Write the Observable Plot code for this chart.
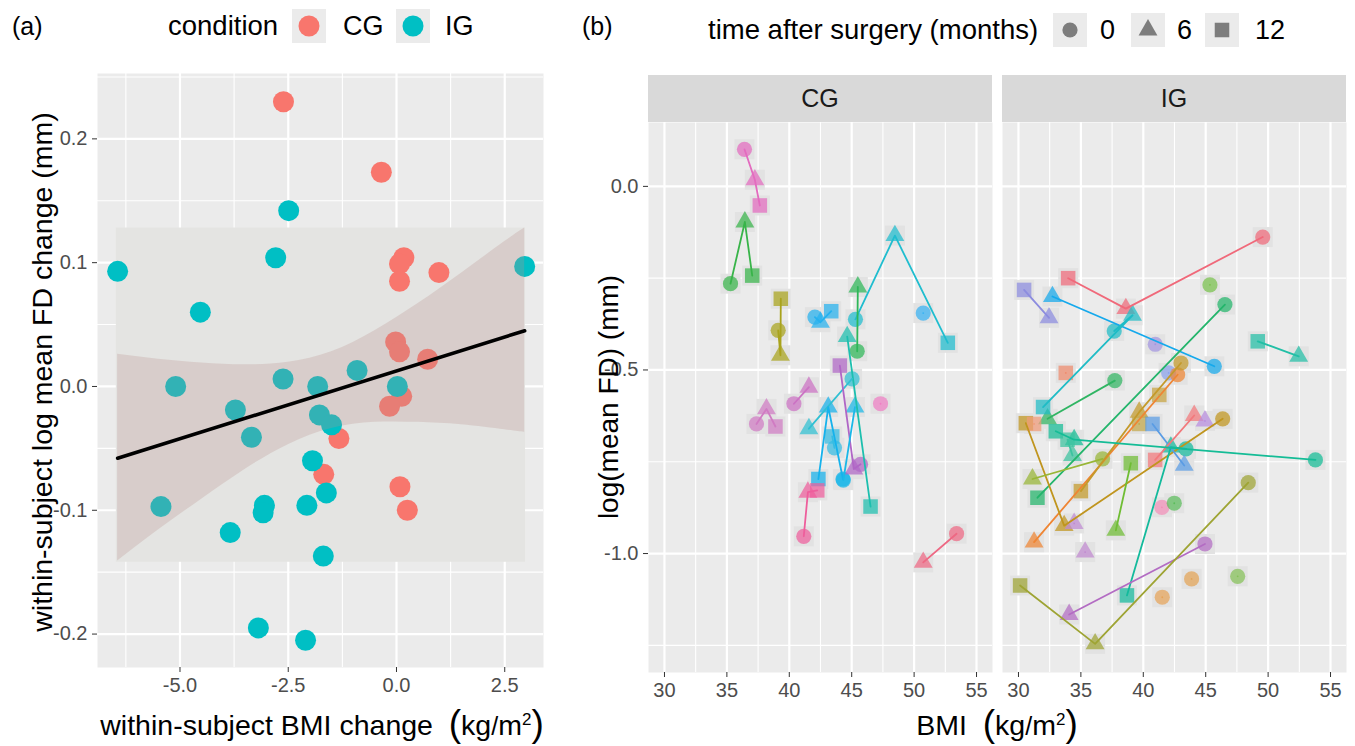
<!DOCTYPE html>
<html><head><meta charset="utf-8">
<script src="https://cdn.jsdelivr.net/npm/d3@7"></script>
<script src="https://cdn.jsdelivr.net/npm/@observablehq/plot@0.6"></script>
<style>
body{margin:0;background:#fff;}
#wrap{position:relative;width:1355px;height:746px;overflow:hidden;font-family:"Liberation Sans",Arial,Helvetica,sans-serif;color:#000;background:#fff;}
.abs{position:absolute;white-space:nowrap;line-height:1;}
.box{position:absolute;top:0;}
.strip{position:absolute;background:#d9d9d9;color:#1a1a1a;font-size:25px;display:flex;align-items:center;justify-content:center;}
.bp{font-size:37px;position:relative;top:1px;font-weight:300;}
sup{font-size:17px;line-height:0;vertical-align:0.55em;}
</style></head>
<body><div id="wrap"></div>
<script>
const FONT = '"Liberation Sans", Arial, Helvetica, sans-serif';

// ---------- Panel (a) data ----------
const aConditions = ["CG", "IG"];
const aCondColors = ["#f8766d", "#00bfc4"];
const aCG_dx = [-2.61, -0.35, 0.17, 0.07, 0.07, 0.98, -0.02, 0.07, 0.72, 0.12, -0.16, -1.33, -1.68, 0.08, 0.25];
const aCG_dy = [0.230, 0.173, 0.104, 0.099, 0.085, 0.092, 0.036, 0.028, 0.022, -0.008, -0.016, -0.042, -0.071, -0.081, -0.100];
const aIG_dx = [-6.44, -2.49, -2.79, -4.53, 2.96, -5.10, -2.62, -1.82, -0.91, 0.02, -3.72, -3.35, -1.78, -1.50, -1.94, -1.62, -5.44, -3.05, -3.08, -2.07, -3.84, -1.69, -3.19, -2.10];
const aIG_dy = [0.093, 0.142, 0.104, 0.060, 0.097, 0.000, 0.006, 0.000, 0.013, 0.000, -0.019, -0.041, -0.023, -0.031, -0.060, -0.086, -0.097, -0.096, -0.102, -0.096, -0.118, -0.137, -0.195, -0.205];
const aFitX = [-6.44, 2.96];
const aFitY = [-0.058, 0.045];
const aBandX  = [-6.44, -5.5, -4.5, -3.5, -2.5, -1.5, -0.5, 0.5, 1.5, 2.5, 2.96];
const aBandHi = [0.026, 0.022, 0.019, 0.0175, 0.0196, 0.028, 0.045, 0.067, 0.0915, 0.117, 0.128];
const aBandLo = [-0.141, -0.116, -0.091, -0.067, -0.047, -0.034, -0.029, -0.029, -0.031, -0.035, -0.037];
const aBoxX = [-6.47, 2.98];
const aBoxY = [-0.142, 0.128];
const aTicksX = [-5, -2.5, 0, 2.5];
const aMinorX = [-6.25, -3.75, -1.25, 1.25];
const aTicksY = [-0.2, -0.1, 0, 0.1, 0.2];
const aMinorY = [-0.15, -0.05, 0.05, 0.15, 0.25];

// ---------- Panel (b) data ----------
const timeLabels = ["0", "6", "12"];
const cgSubj = [1,1,1, 2,2,2, 3,3,3, 4,4,4, 5,5,5, 6,6, 7, 8,8, 9,9, 10,10, 11,11,11, 12,12,12, 13,13,13, 14,14, 15,15, 16,16,16, 17, 18,18];
const cgTime = [0,6,12, 0,6,12, 0,6,12, 0,6,12, 0,6,12, 0,6, 0, 6,12, 0,6, 0,6, 0,6,12, 0,6,12, 0,6,12, 0,6, 0,12, 0,6,12, 0, 0,6];
const cgBMI = [36.41,37.24,37.64, 35.29,36.44,37.03, 39.11,39.29,39.32, 42.05,42.50,43.36, 45.30,48.46,52.70, 45.44,45.49, 50.73, 44.64,46.51, 45.03,41.57, 40.37,41.57, 37.37,38.17,38.89, 45.71,45.17,44.05, 44.30,43.12,42.33, 44.33,45.26, 43.62,43.44, 41.16,41.49,42.24, 47.31, 53.40,50.73];
const cgFD = [0.101,0.018,-0.052, -0.265,-0.097,-0.243, -0.392,-0.460,-0.306, -0.356,-0.370,-0.340, -0.362,-0.134,-0.426, -0.449,-0.274, -0.345, -0.409,-0.872, -0.524,-0.660, -0.592,-0.547, -0.647,-0.606,-0.654, -0.757,-0.770,-0.488, -0.797,-0.601,-0.797, -0.800,-0.601, -0.712,-0.681, -0.953,-0.833,-0.828, -0.592, -0.946,-1.024];
const cgColors = ["#e36bbf","#38b449","#a9a31c","#25b1ef","#1fbdcf","#2eb758","#38b2f2","#1cbfae","#2fc0d3","#cc72c4","#d07bc3","#b066c6","#16b2ec","#1ab8e8","#35bde3","#ee5e9c","#ef7ec3","#ee6883"];

const igSubj = [1,1,1, 2,2, 3,3, 4,4,4, 5, 6, 7,7, 8,8, 9, 10,10, 11, 12,12, 13,13,13, 14, 15, 16,16,16, 17, 18,18, 19,19, 20, 21,21,21, 22,22, 23,23,23, 24,24, 25,25, 26, 27, 28,28, 29,29,29, 30, 31, 32, 33, 34];
const igTime = [0,6,12, 6,12, 0,6, 0,6,12, 0, 0, 0,12, 6,12, 12, 0,6, 0, 0,6, 0,6,12, 12, 12, 0,6,12, 12, 6,12, 6,12, 6, 0,6,12, 6,12, 0,6,12, 0,6, 6,12, 0, 0, 0,6, 0,6,12, 0, 0, 0, 6, 6];
const igBMI = [49.57,38.60,33.98, 32.45,30.45, 45.69,32.72, 37.67,39.14,31.97, 40.96, 45.34, 46.54,31.52, 52.45,49.17, 33.79, 37.72,32.33, 42.03, 42.75,31.25, 43.02,39.67,35.00, 41.28, 39.67, 46.36,33.66,30.59, 31.25, 43.28,40.74, 44.08,40.95, 44.94, 53.79,34.46,32.99, 34.33,33.93, 43.42,42.21,38.69, 36.74,31.12, 37.80,39.00, 41.49, 42.48, 44.94,34.06, 48.41,36.14,30.13, 43.87, 41.52, 47.56, 35.34, 34.46];
const igFD = [-0.138,-0.333,-0.250, -0.358,-0.282, -0.490,-0.300, -0.394,-0.351,-0.601, -0.430, -0.268, -0.322,-0.848, -0.463,-0.422, -0.508, -0.529,-0.633, -0.508, -0.513,-0.969, -0.481,-0.615,-0.830, -0.568, -0.647, -0.633,-0.924,-0.645, -0.647, -0.760,-0.647, -0.624,-0.745, -0.639, -0.745,-0.690,-0.667, -0.733,-0.690, -0.715,-0.710,-1.114, -0.742,-0.797, -0.937,-0.754, -0.874, -0.863, -0.974,-1.166, -0.807,-1.246,-1.087, -1.069, -1.119, -1.062, -0.996, -0.918];
const igColors = ["#f0697a","#8c8cdf","#15a9ec","#1ebcc6","#a395e0","#79c24c","#23b56b","#22bfa6","#ef8a6c","#30b563","#8aa2ec","#ef8533","#c49a2a","#c8a440","#c4a84a","#c0951e","#f19b78","#5a9ce4","#f2797c","#b98ee0","#14bc96","#3cc3a0","#13ba9c","#98b636","#6fbd33","#f28fb8","#5bbd5b","#b36cc3","#9ea433","#e3a356","#e6a359","#85c158","#c089d0","#bf8ad2"];

const bTicksX = [30, 35, 40, 45, 50, 55];
const bMinorX = [32.5, 37.5, 42.5, 47.5, 52.5];
const bTicksY = [0, -0.5, -1.0];
const bMinorY = [-0.25, -0.75, -1.25];

// ---------- build tables ----------
const aRows = [
  ...aCG_dx.map((x, i) => ({dx: x, dy: aCG_dy[i], color: aCondColors[0]})),
  ...aIG_dx.map((x, i) => ({dx: x, dy: aIG_dy[i], color: aCondColors[1]}))
];
const aBand = aBandX.map((x, i) => ({x, lo: aBandLo[i], hi: aBandHi[i]}));
const aFit = aFitX.map((x, i) => ({x, y: aFitY[i]}));
const aBox = [{x1: aBoxX[0], x2: aBoxX[1], y1: aBoxY[0], y2: aBoxY[1]}];

function rowsFor(subj, time, bmi, fd, colors) {
  return subj.map((s, i) => ({subj: s, time: time[i], bmi: bmi[i], fd: fd[i], color: colors[s - 1]}));
}
const cgRows = rowsFor(cgSubj, cgTime, cgBMI, cgFD, cgColors);
const igRows = rowsFor(igSubj, igTime, igBMI, igFD, igColors);

const wrap = document.getElementById("wrap");
const fmt1 = d => d.toFixed(1);
const white = w => ({stroke: "#ffffff", strokeOpacity: 1, strokeWidth: w});
const axisStyle = {tickSize: 5, tickPadding: 5, fontSize: 20, stroke: "#333", fill: "#4d4d4d", label: null};

// ---------- Panel (a) ----------
const plotA = Plot.plot({
  width: 560, height: 746,
  marginLeft: 97, marginRight: 17, marginTop: 73, marginBottom: 79,
  x: {domain: [-6.905, 3.395]},
  y: {domain: [-0.227, 0.2528]},
  color: {type: "identity"},
  style: {fontFamily: FONT, background: "transparent", color: "#4d4d4d"},
  marks: [
    Plot.frame({fill: "#ebebeb", stroke: "none"}),
    Plot.gridX(aMinorX, white(1.1)),
    Plot.gridY(aMinorY, white(1.1)),
    Plot.gridX(aTicksX, white(2.2)),
    Plot.gridY(aTicksY, white(2.2)),
    Plot.rect(aBox, {x1: "x1", x2: "x2", y1: "y1", y2: "y2", fill: "#e4e4e2"}),
    Plot.dot(aRows, {x: "dx", y: "dy", fill: "color", r: 10.5}),
    Plot.areaY(aBand, {x: "x", y1: "lo", y2: "hi", fill: "#b8908e", fillOpacity: 0.27, curve: "natural"}),
    Plot.line(aFit, {x: "x", y: "y", stroke: "#000", strokeWidth: 3.6}),
    Plot.axisX(aTicksX, {...axisStyle, tickFormat: fmt1}),
    Plot.axisY(aTicksY, {...axisStyle, tickFormat: fmt1})
  ]
});
const boxA = document.createElement("div"); boxA.className = "box"; boxA.style.left = "0px";
boxA.appendChild(plotA); wrap.appendChild(boxA);

// ---------- Panel (b) facets ----------
const shapes = [[0, "circle", 7.6], [6, "triangle", 7.0], [12, "square", 8.2]];
function facetPlot(rows, ml, mr, width, withY) {
  return Plot.plot({
    width, height: 746,
    marginLeft: ml, marginRight: mr, marginTop: 122, marginBottom: 74,
    x: {domain: [28.72, 56.28]},
    y: {domain: [-1.324, 0.174], axis: withY ? undefined : null},
    color: {type: "identity"},
    style: {fontFamily: FONT, background: "transparent", color: "#4d4d4d"},
    marks: [
      Plot.frame({fill: "#ebebeb", stroke: "none"}),
      Plot.gridX(bMinorX, white(1.1)),
      Plot.gridY(bMinorY, white(1.1)),
      Plot.gridX(bTicksX, white(2.2)),
      Plot.gridY(bTicksY, white(2.2)),
      Plot.dot(rows, {x: "bmi", y: "fd", symbol: "square", r: 11.3, fill: "#e2e2e2"}),
      ...shapes.map(([t, sym, r]) => Plot.dot(rows.filter(d => d.time === t), {x: "bmi", y: "fd", symbol: sym, r, fill: "color", fillOpacity: 0.72})),
      Plot.line(rows, {x: "bmi", y: "fd", z: "subj", stroke: "color", strokeWidth: 1.8}),
      Plot.axisX(bTicksX, axisStyle),
      withY ? Plot.axisY(bTicksY, {...axisStyle, tickFormat: fmt1}) : null
    ]
  });
}
const boxCG = document.createElement("div"); boxCG.className = "box"; boxCG.style.left = "560px";
boxCG.appendChild(facetPlot(cgRows, 88, 3, 435, true)); wrap.appendChild(boxCG);
const boxIG = document.createElement("div"); boxIG.className = "box"; boxIG.style.left = "995px";
boxIG.appendChild(facetPlot(igRows, 7, 9, 360, false)); wrap.appendChild(boxIG);

// ---------- text, strips, legends ----------
function txt(html, x, y, size, anchor = "start", rotate = false, color = "#000") {
  const d = document.createElement("div");
  d.className = "abs";
  d.innerHTML = html;
  d.style.left = x + "px"; d.style.top = y + "px";
  d.style.fontSize = size + "px"; d.style.color = color;
  let tr = anchor === "middle" ? "translate(-50%,-50%)" : "translate(0,-50%)";
  if (rotate) tr = "translate(-50%,-50%) rotate(-90deg)";
  d.style.transform = tr;
  wrap.appendChild(d);
  return d;
}
function strip(label, left, width) {
  const s = document.createElement("div");
  s.className = "strip";
  s.style.left = left + "px"; s.style.top = "75px";
  s.style.width = width + "px"; s.style.height = "47px";
  s.textContent = label;
  wrap.appendChild(s);
}
strip(aConditions[0], 648, 344);
strip(aConditions[1], 1002, 344);

txt("(a)", 12, 26, 25);
txt("(b)", 582, 26, 25);
const unit = "<span class='bp'>(</span>kg<span style='font-size:25px'>/</span>m<sup>2</sup><span class='bp'>)</span>";
txt("within-subject BMI change&nbsp;&nbsp;" + unit, 322, 722, 28.5, "middle");
txt("within-subject log mean FD change (mm)", 42, 372, 28.5, "middle", true);
txt("BMI&nbsp;&nbsp;" + unit, 997, 722, 28.5, "middle");
txt("log(mean FD) (mm)", 609, 397, 28, "middle", true);

// legend (a)
txt("condition", 168, 26, 27.5);
function key(cx, cy, inner) {
  const d = document.createElement("div");
  d.style.position = "absolute"; d.style.left = (cx - 17) + "px"; d.style.top = (cy - 17) + "px";
  d.innerHTML = `<svg width="34" height="34" viewBox="-17 -17 34 34"><rect x="-17" y="-17" width="34" height="34" fill="#ebebeb"/>${inner}</svg>`;
  wrap.appendChild(d);
}
key(309, 26, `<circle r="10.5" fill="${aCondColors[0]}"/>`);
txt(aConditions[0], 343, 26, 27);
key(413, 26, `<circle r="10.5" fill="${aCondColors[1]}"/>`);
txt(aConditions[1], 445, 26, 27);

// legend (b)
txt("time after surgery (months)", 708, 30, 27.5);
const legSym = [d3.symbolCircle, d3.symbolTriangle, d3.symbolSquare];
const legR = [7.6, 7.0, 8.2];
const legX = [1070, 1148, 1222];
const legLX = [1100, 1177, 1255];
timeLabels.forEach((lab, i) => {
  const p = d3.symbol().type(legSym[i]).size(Math.PI * legR[i] * legR[i])();
  key(legX[i], 30, `<path d="${p}" fill="#7d7d7d"/>`);
  txt(lab, legLX[i], 30, 27);
});
</script></body></html>
